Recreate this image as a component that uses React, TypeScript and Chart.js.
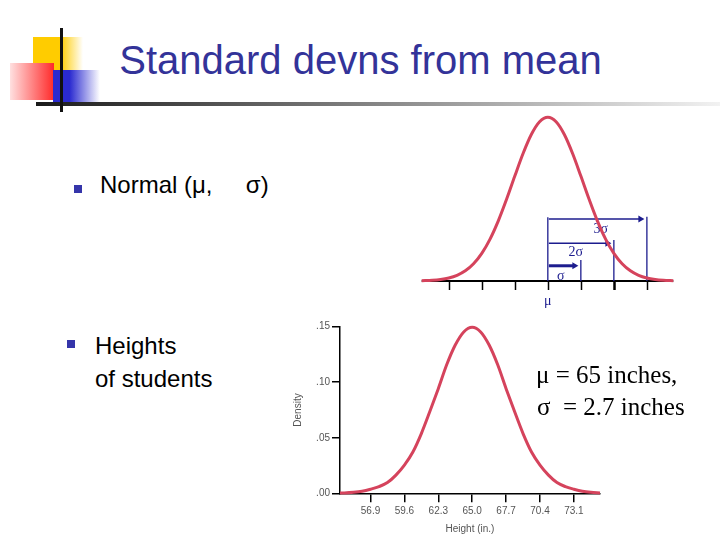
import React, { useEffect, useRef } from 'react';
import { Chart, registerables } from 'chart.js';

Chart.register(...registerables);

// ---------- Top chart: normal curve in units of σ from the mean (relative density, peak = 1)
const topZ = [-3.82, -3.5, -3.25, -3, -2.75, -2.5, -2.25, -2, -1.75, -1.5, -1.25, -1, -0.75, -0.5, -0.25, 0, 0.25, 0.5, 0.75, 1, 1.25, 1.5, 1.75, 2, 2.25, 2.5, 2.75, 3, 3.25, 3.5, 3.8];
const topDensity = [0.0015, 0.0043, 0.0091, 0.0182, 0.0346, 0.062, 0.1051, 0.1686, 0.256, 0.3674, 0.4989, 0.6408, 0.7786, 0.8947, 0.9726, 1, 0.9726, 0.8947, 0.7786, 0.6408, 0.4989, 0.3674, 0.256, 0.1686, 0.1051, 0.062, 0.0346, 0.0182, 0.0091, 0.0043, 0.0016];
const topTicks = [-3, -2, -1, 0, 1, 2, 3];
const sigmaSteps = [1, 2, 3];
const sigmaLineTops = [0.128, 0.25, 0.393];
const sigmaArrowLevels = [0.093, 0.23, 0.379];
const sigmaArrowWidths = [3, 1.5, 1.5];
const sigmaLabels = ['σ', '2σ', '3σ'];
const sigmaLabelX = [0.39, 0.85, 1.6];
const sigmaLabelY = [0.027, 0.174, 0.318];
const meanLineTop = 0.389;
const meanLabel = 'μ';
const meanLabelY = -0.122;

// ---------- Bottom chart: heights of students
const heights = [54.47, 54.82, 55.55, 56.225, 56.9, 57.575, 58.25, 58.925, 59.6, 60.275, 60.95, 61.625, 62.3, 62.975, 63.65, 64.325, 65.0, 65.675, 66.35, 67.025, 67.7, 68.375, 69.05, 69.725, 70.4, 71.075, 71.75, 72.425, 73.1, 73.775, 74.45, 75.18];
const densities = [0.0002, 0.0003, 0.0009, 0.0019, 0.0037, 0.006, 0.0097, 0.0164, 0.0254, 0.0372, 0.0538, 0.0736, 0.0942, 0.1159, 0.1335, 0.1453, 0.1495, 0.1453, 0.1335, 0.1159, 0.0942, 0.0736, 0.0538, 0.0372, 0.0254, 0.0164, 0.0097, 0.006, 0.0037, 0.0019, 0.0009, 0.0003];
const xTickValues = [56.9, 59.6, 62.3, 65.0, 67.7, 70.4, 73.1];
const yTickValues = [0, 0.05, 0.1, 0.15];
const yTickLabels = ['.00', '.05', '.10', '.15'];

const RED = '#d5435c';
const NAVY = '#1c1c8e';
const SANS = '"Liberation Sans", Arial, sans-serif';
const SERIF = '"Liberation Serif", "Times New Roman", serif';

const topAnnotations = {
  id: 'topAnnotations',
  beforeDatasetsDraw(chart: any) {
    const { ctx, scales } = chart;
    const xs = scales.x;
    const ys = scales.y;
    const y0 = ys.getPixelForValue(0);
    ctx.save();
    // baseline
    ctx.strokeStyle = '#000';
    ctx.lineWidth = 2;
    ctx.beginPath();
    ctx.moveTo(chart.chartArea.left, y0);
    ctx.lineTo(chart.chartArea.right, y0);
    ctx.stroke();
    // ticks
    topTicks.forEach((t) => {
      const px = Math.round(xs.getPixelForValue(t)) + 0.5;
      ctx.lineWidth = t === 2 ? 2.5 : 1.5;
      ctx.beginPath();
      ctx.moveTo(px, y0);
      ctx.lineTo(px, y0 + 9);
      ctx.stroke();
    });
    // blue vertical lines and arrows
    ctx.strokeStyle = NAVY;
    ctx.fillStyle = NAVY;
    const xm = xs.getPixelForValue(0);
    ctx.lineWidth = 1.3;
    ctx.beginPath();
    ctx.moveTo(xm, ys.getPixelForValue(meanLineTop));
    ctx.lineTo(xm, y0);
    ctx.stroke();
    sigmaSteps.forEach((k, i) => {
      const xk = xs.getPixelForValue(k);
      ctx.lineWidth = 1.3;
      ctx.beginPath();
      ctx.moveTo(xk, ys.getPixelForValue(sigmaLineTops[i]));
      ctx.lineTo(xk, y0);
      ctx.stroke();
      const ay = ys.getPixelForValue(sigmaArrowLevels[i]);
      const tip = xk - 2.5;
      const head = 6;
      ctx.lineWidth = sigmaArrowWidths[i];
      ctx.beginPath();
      ctx.moveTo(xm + 1, ay);
      ctx.lineTo(tip - head + 1, ay);
      ctx.stroke();
      ctx.beginPath();
      ctx.moveTo(tip, ay);
      ctx.lineTo(tip - head, ay - 3.5);
      ctx.lineTo(tip - head, ay + 3.5);
      ctx.closePath();
      ctx.fill();
    });
    // labels
    ctx.font = `14px ${SERIF}`;
    ctx.textAlign = 'center';
    ctx.textBaseline = 'middle';
    sigmaLabels.forEach((lab, i) => {
      ctx.fillText(lab, xs.getPixelForValue(sigmaLabelX[i]), ys.getPixelForValue(sigmaLabelY[i]));
    });
    ctx.fillText(meanLabel, xm, ys.getPixelForValue(meanLabelY));
    ctx.restore();
  },
};

function TopChart() {
  const ref = useRef<HTMLCanvasElement>(null);
  useEffect(() => {
    if (!ref.current) return;
    const chart = new Chart(ref.current, {
      type: 'line',
      data: {
        datasets: [
          {
            data: topZ.map((z, i) => ({ x: z, y: topDensity[i] })),
            borderColor: RED,
            borderWidth: 3,
            pointRadius: 0,
            cubicInterpolationMode: 'monotone',
            fill: false,
            clip: false,
          } as any,
        ],
      },
      options: {
        animation: false,
        responsive: false,
        events: [],
        layout: { padding: { left: 11.7, right: 16.7, top: 5, bottom: 29 } },
        plugins: { legend: { display: false }, tooltip: { enabled: false } },
        scales: {
          x: { type: 'linear', display: false, min: -3.82, max: 3.8 },
          y: { type: 'linear', display: false, min: 0, max: 1.014 },
        },
      },
      plugins: [topAnnotations],
    });
    return () => chart.destroy();
  }, []);
  return (
    <canvas
      ref={ref}
      width={280}
      height={200}
      style={{ position: 'absolute', left: 410, top: 110, width: 280, height: 200 }}
    />
  );
}

function BottomChart() {
  const ref = useRef<HTMLCanvasElement>(null);
  useEffect(() => {
    if (!ref.current) return;
    const tickFont = { family: SANS, size: 10 };
    const chart = new Chart(ref.current, {
      type: 'line',
      data: {
        datasets: [
          {
            data: heights.map((h, i) => ({ x: h, y: densities[i] })),
            borderColor: RED,
            borderWidth: 3,
            pointRadius: 0,
            cubicInterpolationMode: 'monotone',
            fill: false,
            clip: false,
          } as any,
        ],
      },
      options: {
        animation: false,
        responsive: false,
        events: [],
        layout: { padding: { left: 0, right: 20, top: 16.7, bottom: 0 } },
        plugins: { legend: { display: false }, tooltip: { enabled: false } },
        scales: {
          x: {
            type: 'linear',
            min: 54.47,
            max: 75.18,
            afterBuildTicks: (s: any) => {
              s.ticks = xTickValues.map((v) => ({ value: v }));
            },
            afterFit: (s: any) => {
              s.height = 46.7;
            },
            grid: { drawOnChartArea: false, drawTicks: true, tickLength: 9, color: '#000', lineWidth: 1.5 },
            border: { color: '#000', width: 1.5 },
            ticks: {
              autoSkip: false,
              maxRotation: 0,
              padding: 3,
              color: '#555',
              font: tickFont,
              callback: (v: any) => Number(v).toFixed(1),
            },
            title: {
              display: true,
              text: 'Height (in.)',
              color: '#555',
              font: tickFont,
              padding: { top: 0, bottom: 4.5 },
            },
          },
          y: {
            type: 'linear',
            min: 0,
            max: 0.15,
            afterBuildTicks: (s: any) => {
              s.ticks = yTickValues.map((v) => ({ value: v }));
            },
            afterFit: (s: any) => {
              s.width = 60;
            },
            grid: { drawOnChartArea: false, drawTicks: true, tickLength: 8, color: '#000', lineWidth: 1.5 },
            border: { color: '#000', width: 1.5 },
            ticks: {
              padding: 2,
              color: '#555',
              font: tickFont,
              callback: (_v: any, i: number) => yTickLabels[i],
            },
            title: {
              display: true,
              text: 'Density',
              color: '#555',
              font: tickFont,
              padding: { top: 12.5, bottom: 0 },
            },
          },
        },
      },
    });
    return () => chart.destroy();
  }, []);
  return (
    <canvas
      ref={ref}
      width={340}
      height={230}
      style={{ position: 'absolute', left: 280, top: 310, width: 340, height: 230 }}
    />
  );
}

const abs = (s: React.CSSProperties): React.CSSProperties => ({ position: 'absolute', ...s });

export default function App() {
  return (
    <div style={abs({ left: 0, top: 0, width: 720, height: 540, background: '#fff', overflow: 'hidden' })}>
      {/* decoration */}
      <div style={abs({ left: 33, top: 37, width: 50, height: 34, background: 'linear-gradient(to right, #ffcc00 0%, #ffcc00 55%, #ffffff 100%)' })} />
      <div style={abs({ left: 10, top: 63, width: 44, height: 37, background: 'linear-gradient(to right, #ffe0e0 0%, #ff2a2a 100%)' })} />
      <div style={abs({ left: 53, top: 70, width: 47, height: 33, background: 'linear-gradient(to right, #2a2ad0 0%, #2a2ad0 35%, #ffffff 100%)' })} />
      <div style={abs({ left: 36, top: 102, width: 684, height: 4, background: 'linear-gradient(to right, #1a1a1a 0%, #f2f2f2 100%)' })} />
      <div style={abs({ left: 60, top: 28, width: 3, height: 84, background: '#111' })} />

      {/* title */}
      <div style={abs({ left: 0, top: 40, width: 721, textAlign: 'center', fontFamily: SANS, fontSize: 40, lineHeight: '40px', color: '#333399', whiteSpace: 'pre' })}>
        Standard devns from mean
      </div>

      <TopChart />
      <BottomChart />

      {/* bullets */}
      <div style={abs({ left: 74, top: 185, width: 8, height: 8, background: '#3535aa' })} />
      <div style={abs({ left: 100, top: 173.4, fontFamily: SANS, fontSize: 24, lineHeight: '24px', color: '#000', whiteSpace: 'pre' })}>
        {'Normal (μ,     σ)'}
      </div>
      <div style={abs({ left: 67, top: 340, width: 8, height: 8, background: '#3535aa' })} />
      <div style={abs({ left: 95, top: 328.5, fontFamily: SANS, fontSize: 24, lineHeight: '33px', color: '#000', whiteSpace: 'pre' })}>
        {'Heights\nof students'}
      </div>

      {/* parameters */}
      <div style={abs({ left: 536, top: 362, fontFamily: SERIF, fontSize: 25, lineHeight: '25px', color: '#000', whiteSpace: 'pre' })}>
        {'μ = 65 inches,'}
      </div>
      <div style={abs({ left: 537, top: 393.5, fontFamily: SERIF, fontSize: 25, lineHeight: '25px', color: '#000', whiteSpace: 'pre' })}>
        {'σ  = 2.7 inches'}
      </div>
    </div>
  );
}
